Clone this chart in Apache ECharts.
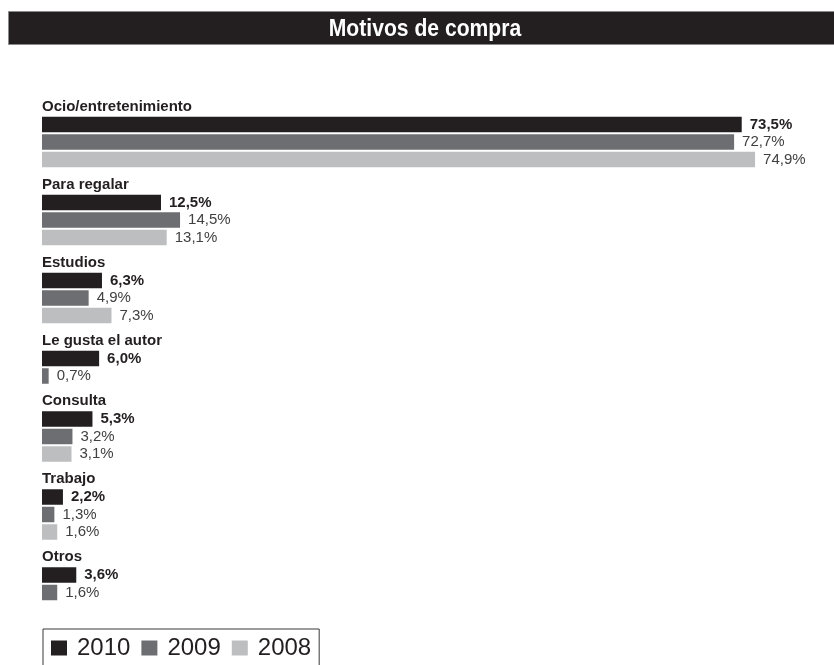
<!DOCTYPE html>
<html>
<head>
<meta charset="utf-8">
<script src="https://cdn.jsdelivr.net/npm/echarts@6/dist/echarts.min.js"></script>
<style>
  html, body { margin: 0; padding: 0; background: #fff; }
  #chart { width: 834px; height: 665px; }
</style>
</head>
<body>
<div id="chart"></div>
<script>
// datos
const categories = ["Ocio/entretenimiento", "Para regalar", "Estudios", "Le gusta el autor", "Consulta", "Trabajo", "Otros"];
const years = ["2010", "2009", "2008"];
const values2010 = [73.5, 12.5, 6.3, 6.0, 5.3, 2.2, 3.6];
const values2009 = [72.7, 14.5, 4.9, 0.7, 3.2, 1.3, 1.6];
const values2008 = [74.9, 13.1, 7.3, null, 3.1, 1.6, null];
const axisMax = 80;

const colors = { "2010": "#231f20", "2009": "#6d6e71", "2008": "#bcbec0" };
const valuesByYear = { "2010": values2010, "2009": values2009, "2008": values2008 };

const rowH = 17.5;   // alto de cada barra + hueco
const headH = 25.5;  // espacio del rotulo de cada grupo
const fmt = v => v.toFixed(1).replace(".", ",") + "%";

let grids = [], xAxes = [], yAxes = [], titles = [], series = [];
let groupTop = 115.75;

categories.forEach(function (cat, i) {
  let rows = years.filter(y => valuesByYear[y][i] != null);
  grids.push({ left: 42, width: 761.6, top: groupTop, height: rows.length * rowH });
  xAxes.push({ gridIndex: i, type: "value", min: 0, max: axisMax, show: false });
  yAxes.push({ gridIndex: i, type: "category", data: rows, inverse: true, show: false });
  titles.push({
    text: cat,
    left: 42,
    top: groupTop - 16.5,
    padding: 0,
    textStyle: { fontSize: 15, fontWeight: "bold", color: "#231f20", fontFamily: "Liberation Sans, Arial, sans-serif" }
  });
  rows.forEach(function (y) {
    series.push({
      name: y,
      type: "bar",
      xAxisIndex: i,
      yAxisIndex: i,
      barWidth: 15.5,
      barGap: "-100%",
      itemStyle: { color: colors[y] },
      label: {
        show: true,
        position: "right",
        distance: 8,
        fontSize: 15,
        fontFamily: "Liberation Sans, Arial, sans-serif",
        fontWeight: y === "2010" ? "bold" : "normal",
        color: y === "2010" ? "#231f20" : "#414042",
        formatter: p => fmt(p.value[0])
      },
      data: [[valuesByYear[y][i], y]]
    });
  });
  groupTop += rows.length * rowH + headH;
});

const option = {
  animation: false,
  title: titles,
  grid: grids,
  xAxis: xAxes,
  yAxis: yAxes,
  legend: {
    data: years,
    left: 43,
    top: 629,
    orient: "horizontal",
    icon: "rect",
    itemWidth: 16,
    itemHeight: 15,
    itemGap: 11,
    padding: [7, 8, 8, 8],
    borderColor: "#3a3738",
    borderWidth: 1,
    selectedMode: false,
    textStyle: {
      fontSize: 24,
      color: "#231f20",
      fontFamily: "Liberation Sans, Arial, sans-serif",
      padding: [0, 0, 0, 5]
    }
  },
  graphic: [
    {
      type: "rect",
      left: 8,
      top: 11,
      shape: { width: 840, height: 33 },
      style: { fill: "#231f20", stroke: "#8a8a8a", lineWidth: 1 },
      z: 0
    },
    {
      // cabecera en letra estrecha
      type: "text",
      x: 425,
      y: 29,
      scaleX: 0.88,
      style: {
        text: "Motivos de compra",
        fill: "#fff",
        fontSize: 24,
        fontWeight: "bold",
        fontFamily: "Liberation Sans, Arial, sans-serif",
        textAlign: "center",
        textVerticalAlign: "middle"
      },
      z: 1
    }
  ],
  series: series
};

let chart = echarts.init(document.getElementById("chart"));
chart.setOption(option);
</script>
</body>
</html>
